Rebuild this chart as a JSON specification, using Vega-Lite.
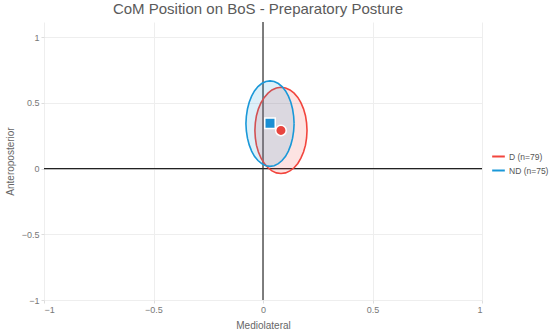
{
  "$schema": "https://vega.github.io/schema/vega-lite/v6.json",
  "width": 438,
  "height": 278,
  "autosize": {"type": "none"},
  "padding": {"left": 44, "top": 22, "right": 68, "bottom": 36},
  "background": "white",
  "config": {
    "font": "Liberation Sans",
    "view": {"stroke": null},
    "axis": {"domain": false, "gridColor": "#eeeeee", "gridWidth": 1, "labelColor": "#777777", "labelFontSize": 9, "tickColor": "#dddddd", "tickSize": 3, "titleColor": "#666666", "titleFontSize": 10, "titleFontWeight": "normal"}
  },
  "title": {"text": "CoM Position on BoS - Preparatory Posture", "fontSize": 15, "fontWeight": "normal", "color": "#5a5a5a", "anchor": "middle", "offset": 4, "dx": -5},
  "datasets": {
    "ell": [
      {"g": "D (n=79)", "i": 0, "x": 0.201, "y": 0.29},
      {"g": "D (n=79)", "i": 1, "x": 0.199, "y": 0.347},
      {"g": "D (n=79)", "i": 2, "x": 0.194, "y": 0.402},
      {"g": "D (n=79)", "i": 3, "x": 0.185, "y": 0.454},
      {"g": "D (n=79)", "i": 4, "x": 0.173, "y": 0.501},
      {"g": "D (n=79)", "i": 5, "x": 0.159, "y": 0.541},
      {"g": "D (n=79)", "i": 6, "x": 0.142, "y": 0.574},
      {"g": "D (n=79)", "i": 7, "x": 0.123, "y": 0.598},
      {"g": "D (n=79)", "i": 8, "x": 0.103, "y": 0.613},
      {"g": "D (n=79)", "i": 9, "x": 0.082, "y": 0.618},
      {"g": "D (n=79)", "i": 10, "x": 0.061, "y": 0.613},
      {"g": "D (n=79)", "i": 11, "x": 0.041, "y": 0.598},
      {"g": "D (n=79)", "i": 12, "x": 0.023, "y": 0.574},
      {"g": "D (n=79)", "i": 13, "x": 0.006, "y": 0.541},
      {"g": "D (n=79)", "i": 14, "x": -0.009, "y": 0.501},
      {"g": "D (n=79)", "i": 15, "x": -0.021, "y": 0.454},
      {"g": "D (n=79)", "i": 16, "x": -0.030, "y": 0.402},
      {"g": "D (n=79)", "i": 17, "x": -0.035, "y": 0.347},
      {"g": "D (n=79)", "i": 18, "x": -0.037, "y": 0.29},
      {"g": "D (n=79)", "i": 19, "x": -0.035, "y": 0.233},
      {"g": "D (n=79)", "i": 20, "x": -0.030, "y": 0.178},
      {"g": "D (n=79)", "i": 21, "x": -0.021, "y": 0.126},
      {"g": "D (n=79)", "i": 22, "x": -0.009, "y": 0.079},
      {"g": "D (n=79)", "i": 23, "x": 0.006, "y": 0.039},
      {"g": "D (n=79)", "i": 24, "x": 0.023, "y": 0.006},
      {"g": "D (n=79)", "i": 25, "x": 0.041, "y": -0.018},
      {"g": "D (n=79)", "i": 26, "x": 0.061, "y": -0.033},
      {"g": "D (n=79)", "i": 27, "x": 0.082, "y": -0.038},
      {"g": "D (n=79)", "i": 28, "x": 0.103, "y": -0.033},
      {"g": "D (n=79)", "i": 29, "x": 0.123, "y": -0.018},
      {"g": "D (n=79)", "i": 30, "x": 0.142, "y": 0.006},
      {"g": "D (n=79)", "i": 31, "x": 0.159, "y": 0.039},
      {"g": "D (n=79)", "i": 32, "x": 0.173, "y": 0.079},
      {"g": "D (n=79)", "i": 33, "x": 0.185, "y": 0.126},
      {"g": "D (n=79)", "i": 34, "x": 0.194, "y": 0.178},
      {"g": "D (n=79)", "i": 35, "x": 0.199, "y": 0.233},
      {"g": "D (n=79)", "i": 36, "x": 0.201, "y": 0.29},
      {"g": "ND (n=75)", "i": 0, "x": 0.142, "y": 0.342},
      {"g": "ND (n=75)", "i": 1, "x": 0.140, "y": 0.398},
      {"g": "ND (n=75)", "i": 2, "x": 0.135, "y": 0.453},
      {"g": "ND (n=75)", "i": 3, "x": 0.127, "y": 0.505},
      {"g": "ND (n=75)", "i": 4, "x": 0.116, "y": 0.551},
      {"g": "ND (n=75)", "i": 5, "x": 0.103, "y": 0.591},
      {"g": "ND (n=75)", "i": 6, "x": 0.087, "y": 0.624},
      {"g": "ND (n=75)", "i": 7, "x": 0.070, "y": 0.647},
      {"g": "ND (n=75)", "i": 8, "x": 0.051, "y": 0.662},
      {"g": "ND (n=75)", "i": 9, "x": 0.032, "y": 0.667},
      {"g": "ND (n=75)", "i": 10, "x": 0.013, "y": 0.662},
      {"g": "ND (n=75)", "i": 11, "x": -0.006, "y": 0.647},
      {"g": "ND (n=75)", "i": 12, "x": -0.023, "y": 0.624},
      {"g": "ND (n=75)", "i": 13, "x": -0.039, "y": 0.591},
      {"g": "ND (n=75)", "i": 14, "x": -0.052, "y": 0.551},
      {"g": "ND (n=75)", "i": 15, "x": -0.063, "y": 0.505},
      {"g": "ND (n=75)", "i": 16, "x": -0.071, "y": 0.453},
      {"g": "ND (n=75)", "i": 17, "x": -0.076, "y": 0.398},
      {"g": "ND (n=75)", "i": 18, "x": -0.078, "y": 0.342},
      {"g": "ND (n=75)", "i": 19, "x": -0.076, "y": 0.286},
      {"g": "ND (n=75)", "i": 20, "x": -0.071, "y": 0.231},
      {"g": "ND (n=75)", "i": 21, "x": -0.063, "y": 0.180},
      {"g": "ND (n=75)", "i": 22, "x": -0.052, "y": 0.133},
      {"g": "ND (n=75)", "i": 23, "x": -0.039, "y": 0.093},
      {"g": "ND (n=75)", "i": 24, "x": -0.023, "y": 0.061},
      {"g": "ND (n=75)", "i": 25, "x": -0.006, "y": 0.037},
      {"g": "ND (n=75)", "i": 26, "x": 0.013, "y": 0.022},
      {"g": "ND (n=75)", "i": 27, "x": 0.032, "y": 0.017},
      {"g": "ND (n=75)", "i": 28, "x": 0.051, "y": 0.022},
      {"g": "ND (n=75)", "i": 29, "x": 0.070, "y": 0.037},
      {"g": "ND (n=75)", "i": 30, "x": 0.087, "y": 0.061},
      {"g": "ND (n=75)", "i": 31, "x": 0.103, "y": 0.093},
      {"g": "ND (n=75)", "i": 32, "x": 0.116, "y": 0.133},
      {"g": "ND (n=75)", "i": 33, "x": 0.127, "y": 0.180},
      {"g": "ND (n=75)", "i": 34, "x": 0.135, "y": 0.231},
      {"g": "ND (n=75)", "i": 35, "x": 0.140, "y": 0.286},
      {"g": "ND (n=75)", "i": 36, "x": 0.142, "y": 0.342}
    ],
    "means": [
      {"g": "D (n=79)", "x": 0.082, "y": 0.29},
      {"g": "ND (n=75)", "x": 0.032, "y": 0.344}
    ]
  },
  "layer": [
    {
      "data": {"values": [{"v": 0}]},
      "mark": {"type": "rule", "color": "#555555", "strokeWidth": 1.5},
      "encoding": {"x": {"field": "v", "type": "quantitative"}}
    },
    {
      "data": {"values": [{"v": 0}]},
      "mark": {"type": "rule", "color": "#222222", "strokeWidth": 1.3},
      "encoding": {"y": {"field": "v", "type": "quantitative"}}
    },
    {
      "data": {"name": "ell"},
      "mark": {"type": "line", "strokeWidth": 1.6, "fillOpacity": 0.15},
      "encoding": {
        "x": {"field": "x", "type": "quantitative", "scale": {"domain": [-1, 1], "nice": false, "zero": false}, "axis": {"title": "Mediolateral", "values": [-1, -0.5, 0, 0.5, 1], "format": "~g", "grid": true, "titlePadding": 6}},
        "y": {"field": "y", "type": "quantitative", "scale": {"domain": [-1, 1.115], "nice": false, "zero": false}, "axis": {"title": "Anteroposterior", "values": [-1, -0.5, 0, 0.5, 1], "format": "~g", "grid": true, "titlePadding": 6}},
        "order": {"field": "i", "type": "quantitative"},
        "detail": {"field": "g"},
        "color": {"field": "g", "type": "nominal", "scale": {"domain": ["D (n=79)", "ND (n=75)"], "range": ["#f2453d", "#1a98d8"]}, "legend": {"title": null, "orient": "none", "legendX": 447, "legendY": 127, "symbolType": "stroke", "symbolStrokeWidth": 2, "symbolSize": 160, "labelOffset": 3, "labelFontSize": 8.5, "labelColor": "#555555", "rowPadding": 2}},
        "fill": {"field": "g", "type": "nominal", "scale": {"domain": ["D (n=79)", "ND (n=75)"], "range": ["#f2453d", "#1a98d8"]}, "legend": null}
      }
    },
    {
      "data": {"name": "means"},
      "transform": [{"filter": "datum.g === 'D (n=79)'"}],
      "mark": {"type": "point", "shape": "circle", "filled": true, "opacity": 1, "fill": "#e8453f", "stroke": "white", "strokeWidth": 1.5, "size": 110},
      "encoding": {
        "x": {"field": "x", "type": "quantitative"},
        "y": {"field": "y", "type": "quantitative"}
      }
    },
    {
      "data": {"name": "means"},
      "transform": [{"filter": "datum.g === 'ND (n=75)'"}],
      "mark": {"type": "point", "shape": "square", "filled": true, "opacity": 1, "fill": "#1a8fd4", "stroke": "white", "strokeWidth": 1.5, "size": 110},
      "encoding": {
        "x": {"field": "x", "type": "quantitative"},
        "y": {"field": "y", "type": "quantitative"}
      }
    }
  ]
}
